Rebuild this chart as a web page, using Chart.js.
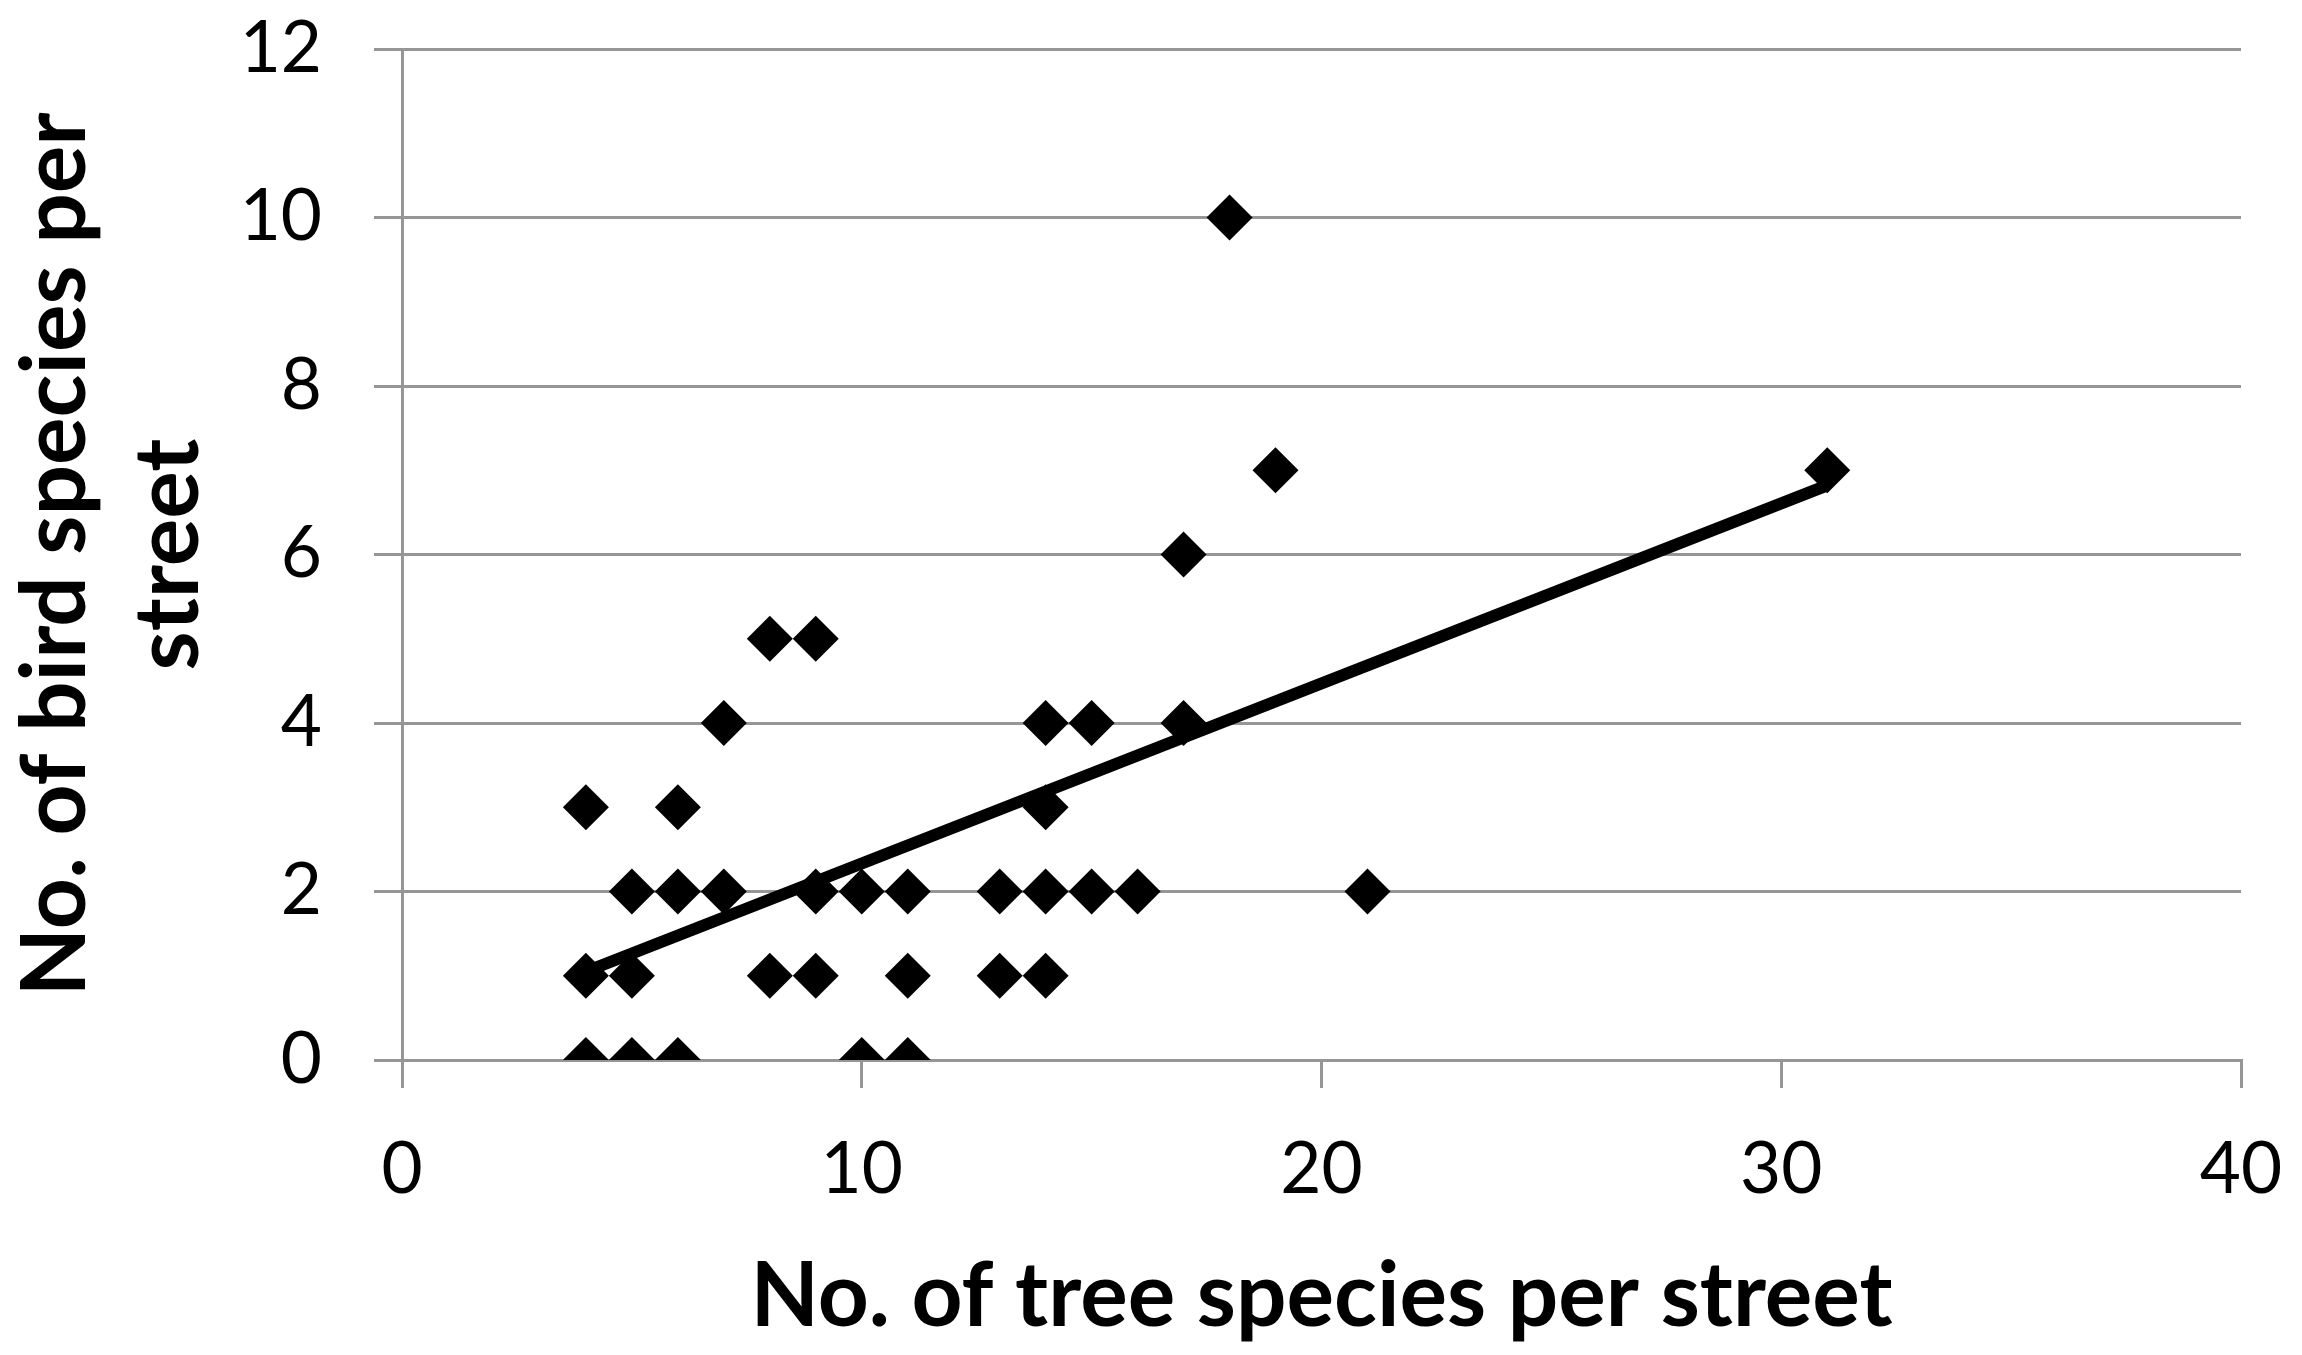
<!DOCTYPE html>
<html>
<head>
<meta charset="utf-8">
<script src="https://cdn.jsdelivr.net/npm/chart.js@4"></script>
<style>
  html, body { margin: 0; padding: 0; background: #fff; overflow: hidden; }
  canvas { display: block; }
</style>
</head>
<body>
<canvas id="scatterChart" width="2302" height="1355"></canvas>
<script>
// data
const treeSpecies = [4, 5, 6, 10, 11,
	4, 5, 8, 9, 11, 13, 14,
	5, 6, 7, 9, 10, 11, 13, 14, 15, 16, 21,
	4, 6, 14,
	7, 14, 15, 17,
	8, 9,
	17,
	19, 31,
	18];
const birdSpecies = [0, 0, 0, 0, 0,
	1, 1, 1, 1, 1, 1, 1,
	2, 2, 2, 2, 2, 2, 2, 2, 2, 2, 2,
	3, 3, 3,
	4, 4, 4, 4,
	5, 5,
	6,
	7, 7,
	10];

// trend line ends
const trendX = [4, 31];
const trendY = [1.05, 6.82];

const xTicks = [0, 10, 20, 30, 40];
const yTicks = [0, 2, 4, 6, 8, 10, 12];

const xTitle = 'No. of tree species per street';
const yTitle = ['No. of bird species per', 'street'];

const gridGray = 'rgb(150, 150, 150)';

const points = treeSpecies.map((x, i) => ({x: x, y: birdSpecies[i]}));
const trend = trendX.map((x, i) => ({x: x, y: trendY[i]}));

const ctx = document.getElementById('scatterChart').getContext('2d');

const scatterChart = new Chart(ctx, {
	type: 'scatter',
	data: {
		datasets: [{
			label: 'Streets',
			data: points,
			pointStyle: 'rectRot',
			pointRadius: 23,
			pointHoverRadius: 23,
			backgroundColor: '#000',
			borderColor: '#000',
			borderWidth: 0
		},
		{
			type: 'line',
			label: 'Trend',
			data: trend,
			showLine: true,
			pointRadius: 0,
			borderColor: '#000',
			borderWidth: 12,
			borderCapStyle: 'butt',
			fill: false
		}]
	},
	options: {
		responsive: false,
		animation: false,
		devicePixelRatio: 1,
		events: [],
		layout: {
			padding: { top: 49, right: 61, left: 0, bottom: 0 }
		},
		plugins: {
			legend: { display: false },
			tooltip: { enabled: false }
		},
		scales: {
			x: {
				type: 'linear',
				min: 0,
				max: 40,
				afterBuildTicks: (scale) => { scale.ticks = xTicks.map(v => ({value: v})); },
				afterFit: (scale) => {
					// fixed axis box, no extra room for the end labels
					scale.height = 295;
					scale.paddingLeft = 0;
					scale.paddingRight = 0;
				},
				grid: {
					drawOnChartArea: false,
					color: gridGray,
					lineWidth: 3,
					tickLength: 28
				},
				border: { color: gridGray, width: 3 },
				ticks: {
					color: '#000',
					padding: 40,
					maxRotation: 0,
					font: { family: 'Lato', size: 71 }
				},
				title: {
					display: true,
					text: xTitle,
					color: '#000',
					padding: { top: 0, bottom: 4 },
					font: { family: 'Lato', size: 89, weight: 'bold', lineHeight: 1.2 }
				}
			},
			y: {
				type: 'linear',
				min: 0,
				max: 12,
				afterBuildTicks: (scale) => { scale.ticks = yTicks.map(v => ({value: v})); },
				afterFit: (scale) => {
					scale.width = 402;
					scale.paddingTop = 0;
					scale.paddingBottom = 0;
				},
				grid: {
					color: gridGray,
					lineWidth: 3,
					tickLength: 28
				},
				border: { color: gridGray, width: 3 },
				ticks: {
					color: '#000',
					padding: 52,
					font: { family: 'Lato', size: 71 }
				},
				title: {
					display: true,
					text: yTitle,
					color: '#000',
					padding: { top: 0, bottom: 0 },
					font: { family: 'Lato', size: 89, weight: 'bold', lineHeight: 1.27 }
				}
			}
		}
	}
});
</script>
</body>
</html>
